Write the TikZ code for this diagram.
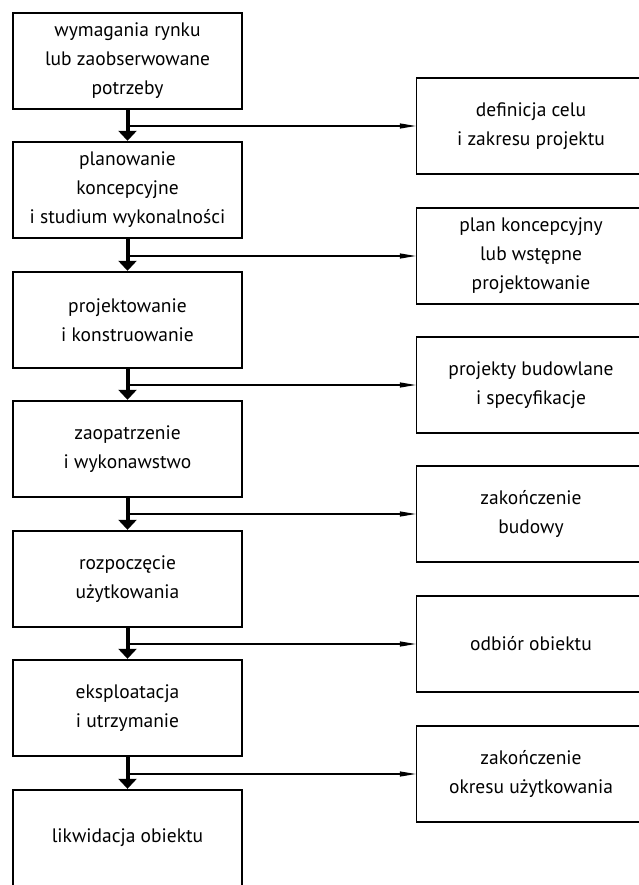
\documentclass[tikz,border=0pt]{standalone}
\usepackage{fontspec}
\setmainfont{PT Sans}
\usepackage{tikz}
\usetikzlibrary{arrows.meta}

\begin{document}
\begin{tikzpicture}[x=1pt, y=-1pt,
    stage/.style={draw, line width=2.4pt, minimum width=229pt, minimum height=96pt, inner sep=0pt, align=center, font=\fontsize{19.5}{29}\selectfont},
    result/.style={draw, line width=1.3pt, minimum width=229pt, minimum height=96pt, inner sep=0pt, align=center, font=\fontsize{19.5}{29}\selectfont},
    flow/.style={line width=4pt, -{Triangle[width=18pt, length=10pt]}},
    branch/.style={line width=1.1pt, -{Triangle[width=5pt, length=16pt]}}]
    \useasboundingbox (0,0) rectangle (638,885);

    \node[stage] (s1) at (127.5,61) {wymagania rynku\\lub zaobserwowane\\potrzeby};
    \node[stage] (s2) at (127.5,190) {planowanie\\koncepcyjne\\i studium wykonalności};
    \node[stage] (s3) at (127.5,320) {projektowanie\\i konstruowanie};
    \node[stage] (s4) at (127.5,449) {zaopatrzenie\\i wykonawstwo};
    \node[stage] (s5) at (127.5,579) {rozpoczęcie\\użytkowania};
    \node[stage] (s6) at (127.5,708) {eksploatacja\\i utrzymanie};
    \node[stage] (s7) at (127.5,838) {likwidacja obiektu};

    \node[result] (r1) at (531,126) {definicja celu\\i zakresu projektu};
    \node[result] (r2) at (531,256) {plan koncepcyjny\\lub wstępne\\projektowanie};
    \node[result] (r3) at (531,385) {projekty budowlane\\i specyfikacje};
    \node[result] (r4) at (531,514) {zakończenie\\budowy};
    \node[result] (r5) at (531,644) {odbiór obiektu};
    \node[result] (r6) at (531,774) {zakończenie\\okresu użytkowania};

    \coordinate (j1) at (s1.center |- r1.west);
    \coordinate (j2) at (s2.center |- r2.west);
    \coordinate (j3) at (s3.center |- r3.west);
    \coordinate (j4) at (s4.center |- r4.west);
    \coordinate (j5) at (s5.center |- r5.west);
    \coordinate (j6) at (s6.center |- r6.west);

    \draw[flow] (s1) -- (s2);
    \draw[flow] (s2) -- (s3);
    \draw[flow] (s3) -- (s4);
    \draw[flow] (s4) -- (s5);
    \draw[flow] (s5) -- (s6);
    \draw[flow] (s6) -- (s7);

    \draw[branch] (j1) -- (r1);
    \draw[branch] (j2) -- (r2);
    \draw[branch] (j3) -- (r3);
    \draw[branch] (j4) -- (r4);
    \draw[branch] (j5) -- (r5);
    \draw[branch] (j6) -- (r6);
\end{tikzpicture}
\end{document}
